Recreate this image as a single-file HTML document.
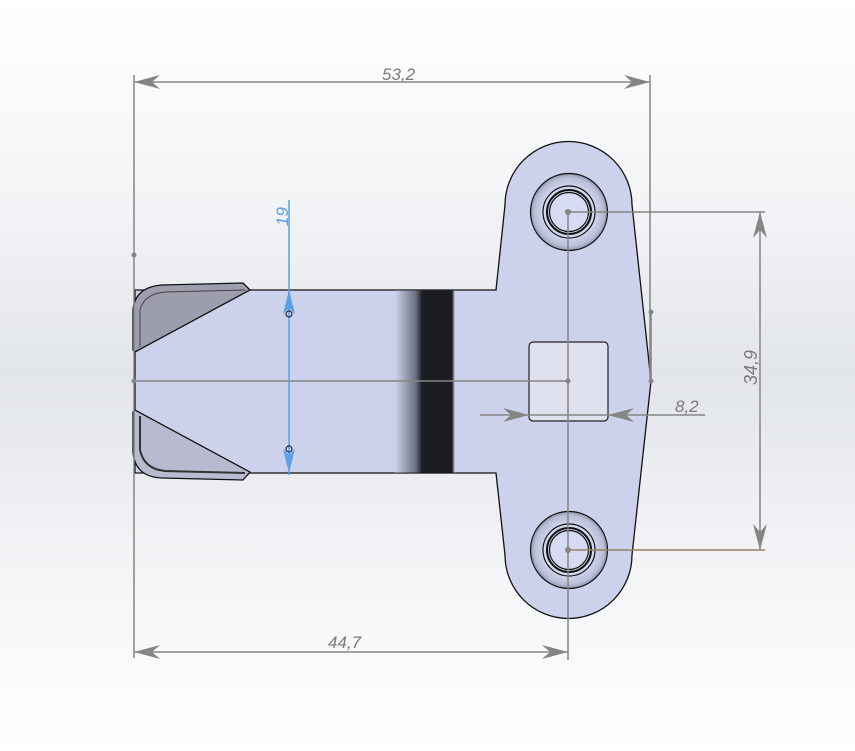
<!DOCTYPE html>
<html><head><meta charset="utf-8"><style>
html,body{margin:0;padding:0;width:855px;height:751px;overflow:hidden}
svg{display:block}
text{font-family:"Liberation Sans",sans-serif;font-style:italic;font-size:17px;fill:#7a7a7a}
</style></head><body>
<svg width="855" height="751" viewBox="0 0 855 751" xmlns="http://www.w3.org/2000/svg">
<defs>
<linearGradient id="bg" x1="0" y1="0" x2="0" y2="1">
<stop offset="0" stop-color="#ffffff"/><stop offset="0.25" stop-color="#f4f5f7"/>
<stop offset="0.5" stop-color="#e2e5ea"/><stop offset="0.75" stop-color="#f3f4f6"/>
<stop offset="1" stop-color="#ffffff"/></linearGradient>
<linearGradient id="band" x1="0" y1="0" x2="1" y2="0">
<stop offset="0" stop-color="#cdd2ec"/><stop offset="0.35" stop-color="#6b6e80"/>
<stop offset="0.45" stop-color="#1c1d22"/><stop offset="0.95" stop-color="#1c1d22"/>
<stop offset="1" stop-color="#cdd2ec"/></linearGradient>
<radialGradient id="ring" cx="0.5" cy="0.5" r="0.5">
<stop offset="0.6" stop-color="#d6daf2"/><stop offset="0.9" stop-color="#b9bdd6"/><stop offset="1" stop-color="#8e92a8"/></radialGradient>
</defs>
<rect width="855" height="751" fill="url(#bg)"/>
<path d="M496,290 L505,205 A63,63 0 0 1 632,205 L651,381 L632,555 A63,63 0 0 1 505,555 L496,473 L135,473 L135,290 Z" fill="#cdd2ec" stroke="#111" stroke-width="1.3"/>
<rect x="395" y="290.6" width="60" height="182" fill="url(#band)"/>
<rect x="529" y="342" width="79" height="79" rx="4" fill="#dfe2ee" stroke="#222" stroke-width="1.2"/>
<path d="M133,350 L133,310 Q135,287 162,285 L243,283 L250,290 L135,352 Z" fill="#9c9eae" stroke="#111" stroke-width="1.3"/>
<path d="M140,347 L140,310 Q144,294 165,292 L245,290" fill="none" stroke="#444" stroke-width="1"/>
<path d="M133,412 L133,452 Q135,477 162,478 L243,480 L250,472 L135,410 Z" fill="#b8bbcf" stroke="#111" stroke-width="1.3"/>
<path d="M140,416 L140,450 Q144,469 165,471 L245,473" fill="none" stroke="#333" stroke-width="2"/>
<g stroke="#111" stroke-width="1.2">
<circle cx="569" cy="212" r="38.5" fill="url(#ring)"/>
<circle cx="569" cy="212" r="26" fill="#d3d7ef"/>
<circle cx="569" cy="212" r="22" fill="#d3d7ef" stroke-width="2"/>
<circle cx="569" cy="212" r="19.5" fill="#d6daf2"/>
<circle cx="569" cy="550" r="38.5" fill="url(#ring)"/>
<circle cx="569" cy="550" r="26" fill="#d3d7ef"/>
<circle cx="569" cy="550" r="22" fill="#d3d7ef" stroke-width="2"/>
<circle cx="569" cy="550" r="19.5" fill="#d6daf2"/>
</g>
<g stroke="#858585" stroke-width="1.5" fill="none">
<line x1="134" y1="75" x2="134" y2="658"/>
<line x1="650" y1="75" x2="650" y2="381"/>
<line x1="651" y1="312" x2="651" y2="381"/>
<line x1="134" y1="82" x2="650" y2="82"/>
<line x1="134" y1="652" x2="568" y2="652"/>
<line x1="568" y1="212" x2="568" y2="660"/>
<line x1="135" y1="381" x2="568" y2="381"/>
<line x1="568" y1="212" x2="765" y2="212"/>
<line x1="760" y1="212" x2="760" y2="550"/>
<line x1="480" y1="415" x2="705" y2="415"/>
</g>
<line x1="568" y1="550" x2="765" y2="550" stroke="#9a8068" stroke-width="1.5"/>
<g fill="#858585">
<path d="M134,82 L160,75 L152,82 L160,89 Z"/>
<path d="M650,82 L624,75 L632,82 L624,89 Z"/>
<path d="M134,652 L160,645 L152,652 L160,659 Z"/>
<path d="M568,652 L542,645 L550,652 L542,659 Z"/>
<path d="M760,212 L753,238 L760,230 L767,238 Z"/>
<path d="M760,550 L753,524 L760,532 L767,524 Z"/>
<path d="M529,415 L503,408 L511,415 L503,422 Z"/>
<path d="M608,415 L634,408 L626,415 L634,422 Z"/>
<circle cx="134" cy="255" r="2.5"/><circle cx="134" cy="381" r="2.5"/>
<circle cx="568" cy="381" r="2.5"/><circle cx="651" cy="312" r="2.5"/><circle cx="651" cy="381" r="2.5"/>
<circle cx="568" cy="212" r="3"/><circle cx="568" cy="550" r="3"/>
</g>
<line x1="289" y1="200" x2="289" y2="475" stroke="#5aa0e6" stroke-width="1.5"/>
<path d="M289,290 L283,314 L289,308 L295,314 Z" fill="#5aa0e6"/>
<path d="M289,473 L283,449 L289,455 L295,449 Z" fill="#5aa0e6"/>
<circle cx="289" cy="314" r="3" fill="none" stroke="#224" stroke-width="1.2"/>
<circle cx="289" cy="449" r="3" fill="none" stroke="#224" stroke-width="1.2"/>
<text x="0" y="0" transform="translate(288,226) rotate(-90)" style="fill:#5aa0e6">19</text>
<text x="382" y="80">53,2</text>
<text x="328" y="648">44,7</text>
<text x="675" y="412">8,2</text>
<text x="0" y="0" transform="translate(757,385) rotate(-90)" style="font-size:18px">34,9</text>
</svg>
</body></html>
